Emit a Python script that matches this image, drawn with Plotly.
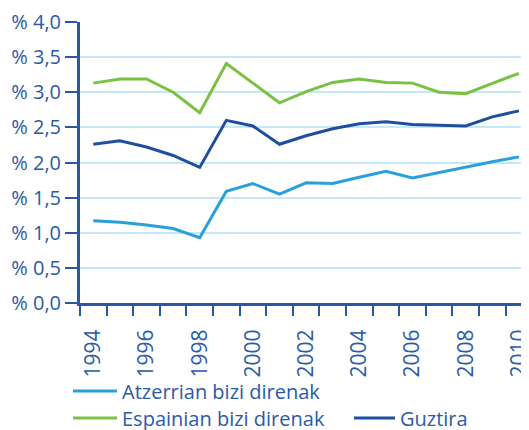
import plotly.graph_objects as go

years = list(range(1994, 2011))
atzerrian = [1.17, 1.15, 1.11, 1.06, 0.93, 1.59, 1.70, 1.55, 1.71, 1.70, 1.79, 1.875, 1.78, 1.86, 1.93, 2.01, 2.08]
espainian = [3.13, 3.19, 3.19, 3.00, 2.71, 3.41, 3.13, 2.85, 3.01, 3.14, 3.19, 3.14, 3.13, 3.00, 2.98, 3.13, 3.27]
guztira = [2.26, 2.31, 2.22, 2.10, 1.93, 2.60, 2.52, 2.26, 2.38, 2.48, 2.55, 2.58, 2.54, 2.53, 2.52, 2.65, 2.735]
names = ["Atzerrian bizi direnak", "Espainian bizi direnak", "Guztira"]
label_years = list(range(1994, 2011, 2))
y_ticks = [0, 0.5, 1, 1.5, 2, 2.5, 3, 3.5, 4]
y_labels = ["% 0,0", "% 0,5", "% 1,0", "% 1,5", "% 2,0", "% 2,5", "% 3,0", "% 3,5", "% 4,0"]

TXT = "#2b5aa6"
AX = "#2a57a5"
FONT = "Open Sans"

fig = go.Figure()
fig.add_trace(go.Scatter(x=years, y=atzerrian, mode="lines", name=names[0],
                         line=dict(color="#2aa0da", width=3), legend="legend"))
fig.add_trace(go.Scatter(x=years, y=espainian, mode="lines", name=names[1],
                         line=dict(color="#7bc143", width=3), legend="legend2"))
fig.add_trace(go.Scatter(x=years, y=guztira, mode="lines", name=names[2],
                         line=dict(color="#1f4e9f", width=3), legend="legend3"))

# the page's body has an 8px margin: the figure sits at (8, 8)
OFF = 8
W, H = 529 - OFF, 430 - OFF
L, T, B, R = 80 - OFF, 22 - OFF, 127, 0
pw, ph = W - L - R, H - T - B

def px_x(p):
    return (p - OFF - L) / pw

def px_y(p):
    return (H - B - (p - OFF)) / ph

legend_common = dict(orientation="h", xanchor="left", yanchor="middle",
                     font=dict(family=FONT, size=20, color=TXT),
                     bgcolor="rgba(0,0,0,0)")

fig.update_layout(
    width=W, height=H,
    margin=dict(l=L, r=R, t=T, b=B, autoexpand=False),
    plot_bgcolor="white", paper_bgcolor="white",
    font=dict(family=FONT, color=TXT),
    showlegend=True,
    legend=dict(x=px_x(68), y=px_y(391), itemwidth=44, **legend_common),
    legend2=dict(x=px_x(68), y=px_y(418), itemwidth=44, **legend_common),
    legend3=dict(x=px_x(349), y=px_y(418), itemwidth=41, **legend_common),
    xaxis=dict(
        range=[1993.5, 1993.5 + pw / 26.6],
        tickvals=label_years,
        tickangle=-90,
        ticks="outside", ticklen=15, tickcolor="rgba(0,0,0,0)",
        tickfont=dict(family=FONT, size=21, color=TXT),
        ticklabeloverflow="allow",
        showline=True, linecolor=AX, linewidth=3,
        showgrid=False, zeroline=False, automargin=False,
        minor=dict(tick0=1993.5, dtick=1, ticks="outside", ticklen=10,
                   tickcolor=AX, tickwidth=2, showgrid=False),
    ),
    yaxis=dict(
        range=[0, 4],
        tickvals=y_ticks, ticktext=y_labels,
        ticks="outside", ticklen=12, tickwidth=2, tickcolor=AX,
        tickfont=dict(family=FONT, size=20, color=TXT),
        showline=True, linecolor=AX, linewidth=3,
        showgrid=True, gridcolor="#c4e8f7", gridwidth=1.5,
        zeroline=False, automargin=False,
    ),
    shapes=[dict(type="line", xref="paper", yref="paper",
                 x0=px_x(10), x1=1, y0=px_y(1.5), y1=px_y(1.5),
                 line=dict(color="#c0c0c0", width=2))],
)

fig.write_html("out.html")
